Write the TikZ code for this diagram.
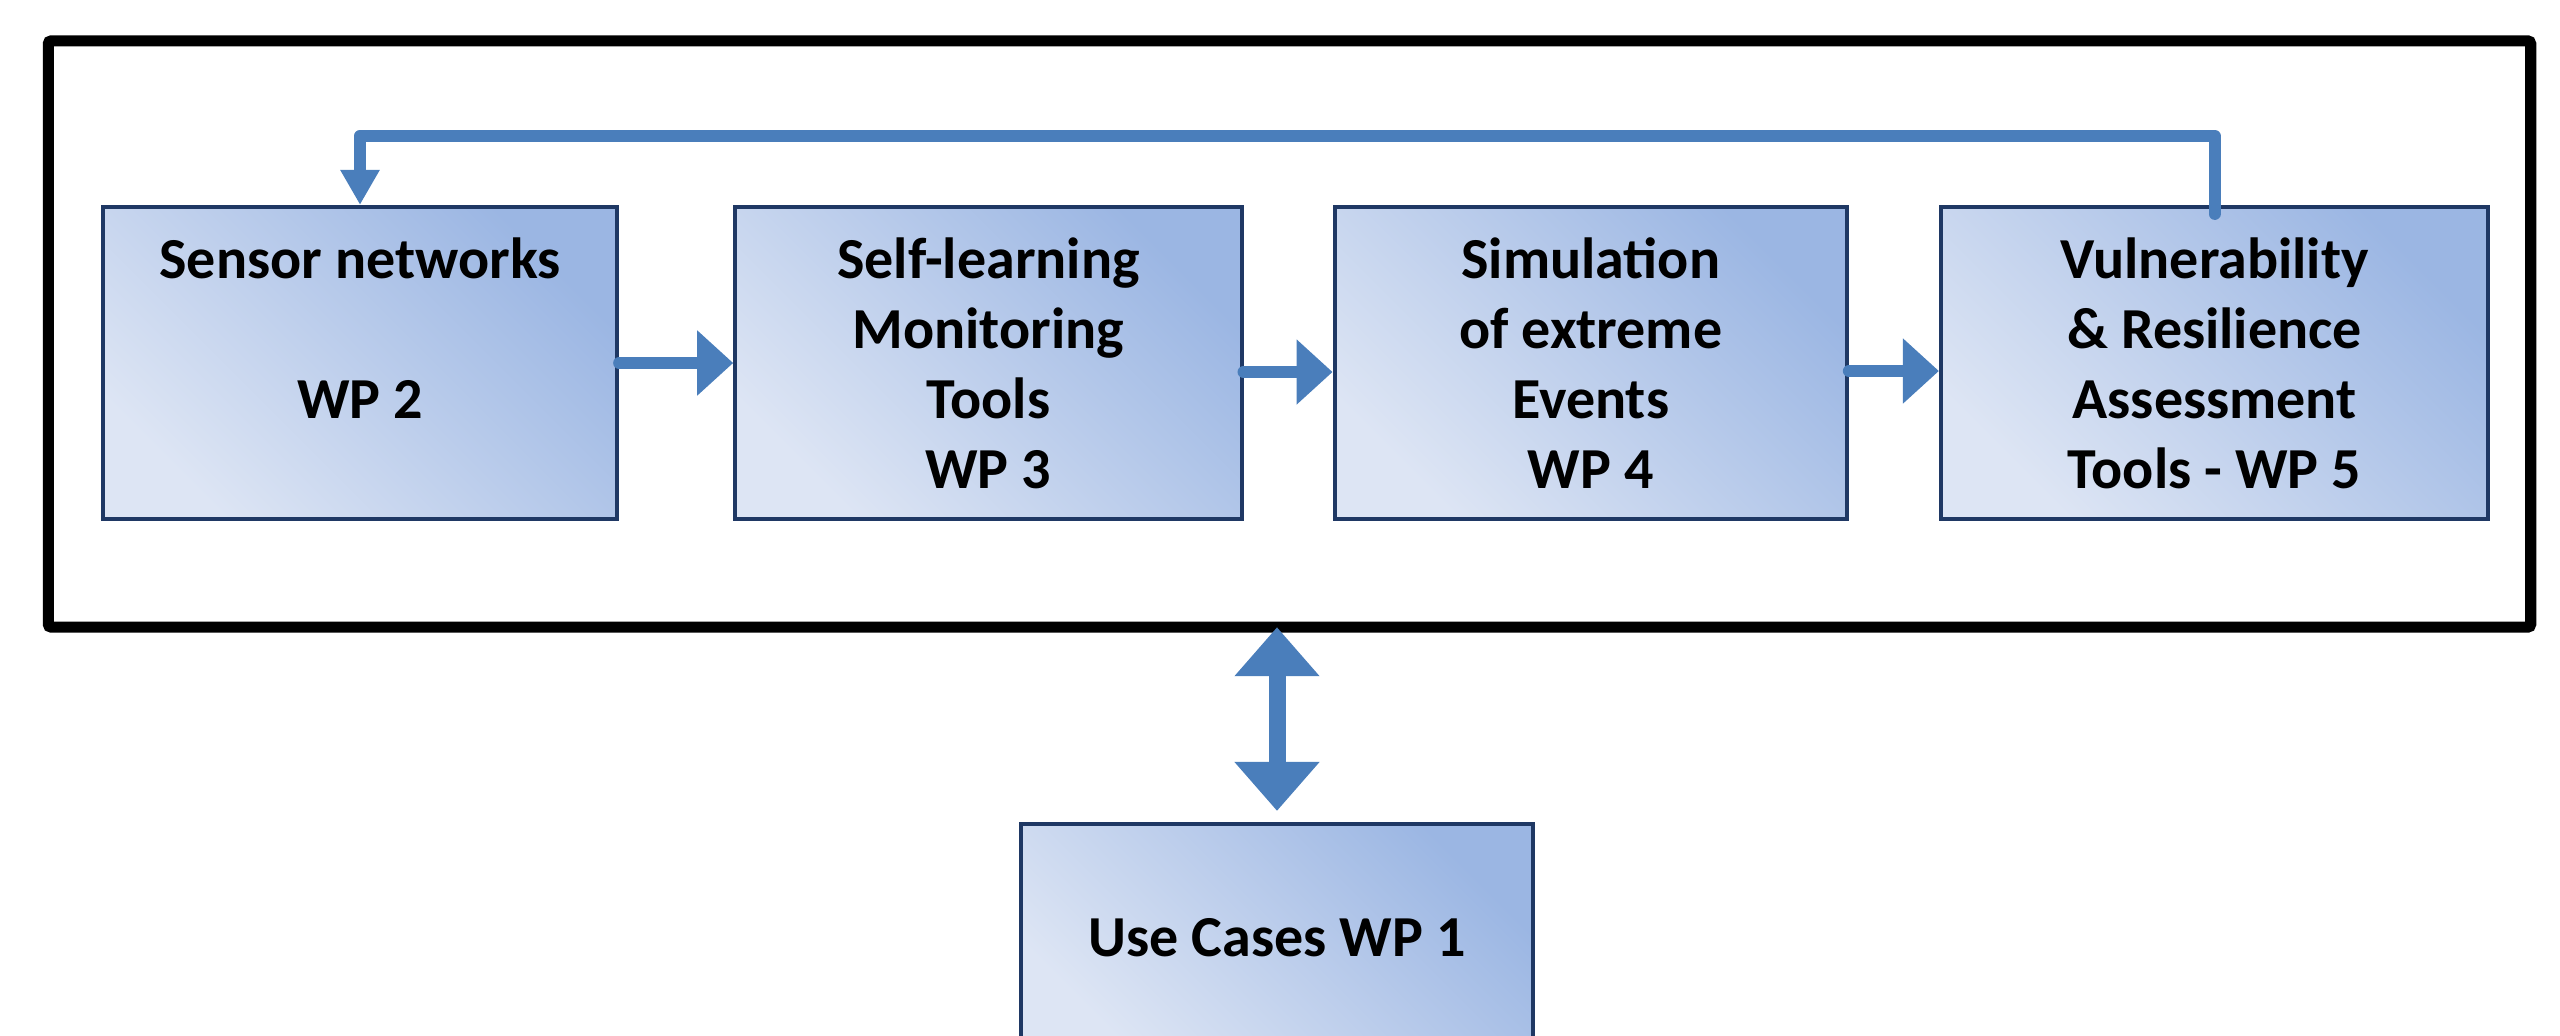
\documentclass[tikz,border=0pt]{standalone}
\usepackage{fontspec}
\setmainfont{Carlito}
\usetikzlibrary{positioning,arrows.meta}
\definecolor{wpnavy}{RGB}{31,56,100}
\definecolor{wparrow}{RGB}{74,126,187}
\definecolor{wplight}{RGB}{221,229,244}
\definecolor{wpdark}{RGB}{155,182,227}
\tikzset{
  wpbox/.style={draw=wpnavy, line width=0.04cm, top color=wpdark, bottom color=wplight,
    shading angle=-45, minimum height=3.12cm, align=center,
    font=\bfseries\fontsize{16.5}{19.9}\selectfont},
  flow/.style={draw=wparrow, line width=0.12cm, line cap=round,
    -{Triangle[length=3.6mm,width=6.3mm]}},
  loopback/.style={draw=wparrow, line width=0.12cm, line cap=round, line join=round,
    -{Triangle[length=3.5mm,width=3.7mm]}},
  both/.style={draw=wparrow, line width=0.17cm,
    {Triangle[length=4.9mm,width=8.2mm]}-{Triangle[length=4.9mm,width=8.2mm]}},
  outerframe/.style={draw=black, line width=0.11cm, rounded corners=0.03cm, outer sep=0pt}
}
\begin{document}
\begin{tikzpicture}[x=0.01cm, y=0.01cm]
        \useasboundingbox (0,0) rectangle (2560,1035);
        \clip (0,0) rectangle (2560,1035);
        \node[outerframe, minimum width=24.81cm, minimum height=5.86cm] (frame) at (1289.5,701) {};
        \node[wpbox, minimum width=5.14cm] (sensor) at (360,672) {Sensor networks\\~\\WP 2\\~};
        \node[wpbox, minimum width=5.06cm, right=1.14cm of sensor] (learn) {Self-learning\\Monitoring\\Tools\\WP 3};
        \node[wpbox, minimum width=5.12cm, right=0.89cm of learn] (sim) {Simulation\\of extreme\\Events\\WP 4};
        \node[wpbox, minimum width=5.47cm, right=0.90cm of sim] (vuln) {Vulnerability\\\& Resilience\\Assessment\\Tools - WP 5};
        \node[wpbox, minimum width=5.12cm, minimum height=2.28cm] (usecase) at (1277,97) {Use Cases WP 1};
        \draw[flow] (sensor.east) -- (learn.west);
        \draw[flow] ([yshift=-0.09cm]learn.east) -- ([yshift=-0.09cm]sim.west);
        \draw[flow] ([yshift=-0.08cm]sim.east) -- ([yshift=-0.08cm]vuln.west);
        \draw[loopback] ([yshift=-0.09cm]vuln.north) |- ([yshift=0.69cm]sensor.north) -- (sensor.north);
        \draw[both] (usecase.north |- frame.south) -- ([yshift=0.11cm]usecase.north);
    \end{tikzpicture}
\end{document}
